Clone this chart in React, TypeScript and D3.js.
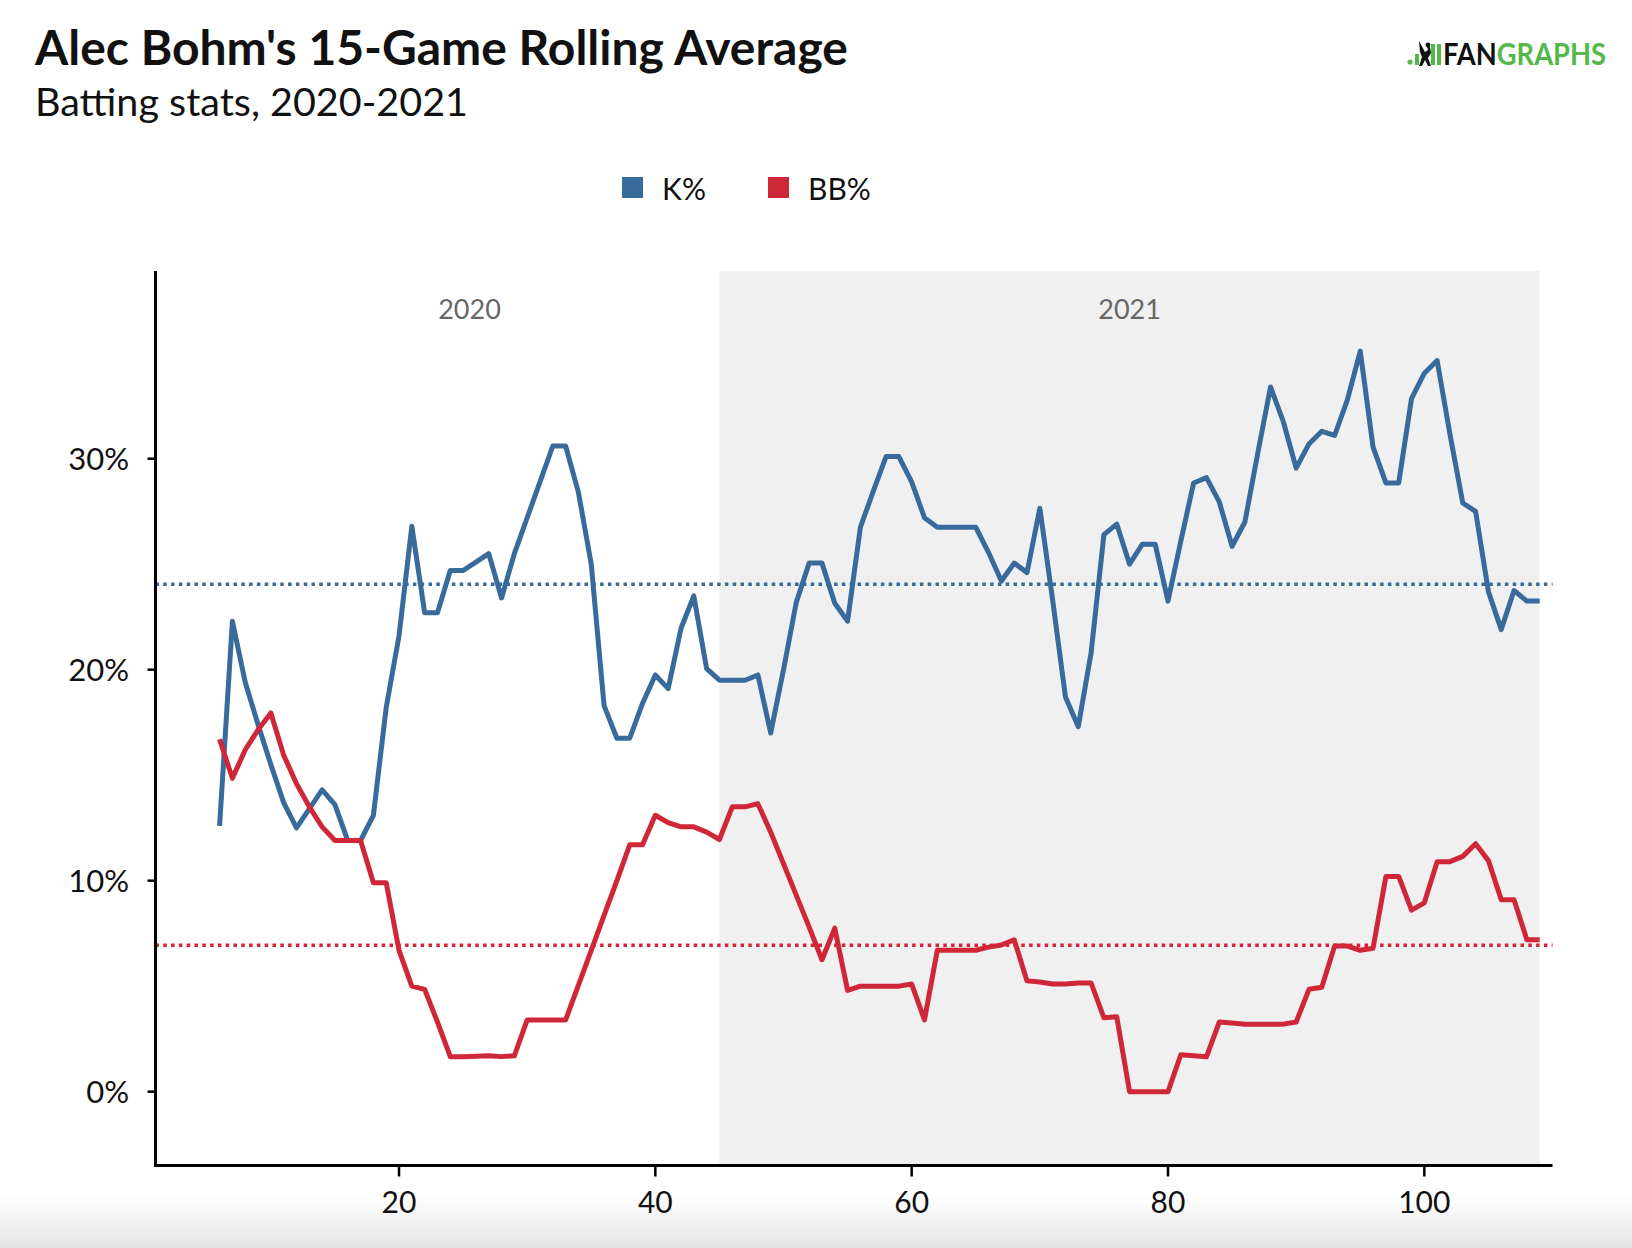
import React from "react";
import * as d3 from "d3";

// ---- data ----
const FIRST_GAME = 6;
const kPct = [
  12.6, 22.3, 19.4, 17.4, 15.5, 13.7, 12.5, 13.4, 14.3, 13.6,
  11.9, 11.9, 13.1, 18.2, 21.6, 26.8, 22.7, 22.7, 24.7, 24.7,
  25.1, 25.5, 23.4, 25.5, 27.2, 28.9, 30.6, 30.6, 28.4, 25.0,
  18.3, 16.75, 16.75, 18.4, 19.75, 19.1, 21.95, 23.5, 20.05, 19.5,
  19.5, 19.5, 19.75, 17.0, 20.0, 23.2, 25.05, 25.05, 23.15, 22.3,
  26.75, 28.45, 30.1, 30.1, 28.9, 27.2, 26.75, 26.75, 26.75, 26.75,
  25.55, 24.2, 25.05, 24.6, 27.65, 23.3, 18.7, 17.3, 20.8, 26.4,
  26.9, 25.0, 25.95, 25.95, 23.25, 26.1, 28.85, 29.1, 27.95, 25.85,
  27.0, 30.25, 33.4, 31.75, 29.55, 30.7, 31.3, 31.1, 32.8, 35.1,
  30.55, 28.85, 28.85, 32.85, 34.05, 34.65, 31.15, 27.9, 27.5, 23.7,
  21.9, 23.75, 23.25, 23.25,
];
const bbPct = [
  16.7, 14.85, 16.2, 17.15, 17.95, 15.95, 14.6, 13.5, 12.55, 11.9,
  11.9, 11.9, 9.9, 9.9, 6.7, 5.0, 4.85, 3.3, 1.66, 1.66,
  1.68, 1.7, 1.66, 1.7, 3.4, 3.4, 3.4, 3.4, 5.05, 6.7,
  8.35, 10.0, 11.7, 11.7, 13.1, 12.75, 12.55, 12.55, 12.3, 11.95,
  13.5, 13.5, 13.65, 12.3, 10.8, 9.3, 7.8, 6.25, 7.75, 4.8,
  5.0, 5.0, 5.0, 5.0, 5.1, 3.4, 6.7, 6.7, 6.7, 6.7,
  6.85, 6.95, 7.2, 5.25, 5.2, 5.1, 5.1, 5.15, 5.15, 3.5,
  3.55, 0, 0, 0, 0, 1.75, 1.7, 1.65, 3.3, 3.25,
  3.2, 3.2, 3.2, 3.2, 3.3, 4.85, 4.95, 6.9, 6.9, 6.7,
  6.8, 10.2, 10.2, 8.6, 8.95, 10.9, 10.9, 11.15, 11.75, 10.95,
  9.1, 9.1, 7.2, 7.2,
];
const kAvg = 24.05;
const bbAvg = 6.94;
const seasons = [
  { label: "2020", start: 6, end: 45 },
  { label: "2021", start: 45, end: 109 },
];
const yTicks = [0, 10, 20, 30];
const xTicks = [20, 40, 60, 80, 100];
const xDomain = [1, 110];
const yDomain = [-3.5, 38.9];

const series = [
  { name: "K%", values: kPct, avg: kAvg, color: "#386a9b" },
  { name: "BB%", values: bbPct, avg: bbAvg, color: "#cf2738" },
];

const W = 1632;
const H = 1248;
const FONT = "Lato, 'Open Sans', sans-serif";

export default function App() {
  const x = d3.scaleLinear().domain(xDomain).range([155.5, 1552.5]);
  const y = d3.scaleLinear().domain(yDomain).range([1165.5, 270.9]);
  const [y0, y1] = y.range();

  const line = d3
    .line<number>()
    .x((_, i) => x(FIRST_GAME + i))
    .y((d) => y(d));

  return (
    <svg
      width={W}
      height={H}
      style={{ position: "absolute", left: 0, top: 0, background: "#fff" }}
      fontFamily={FONT}
    >
      <defs>
        <linearGradient id="bottomFade" x1="0" y1="0" x2="0" y2="1">
          <stop offset="0" stopColor="#ffffff" />
          <stop offset="1" stopColor="#e4e4e4" />
        </linearGradient>
      </defs>
      <rect x={0} y={0} width={W} height={H} fill="#fff" />
      <rect x={0} y={1196} width={W} height={H - 1196} fill="url(#bottomFade)" />

      {/* title */}
      <text x={35} y={65} fontSize={48} fontWeight={700} fill="#111">
        Alec Bohm's 15-Game Rolling Average
      </text>
      <text x={35} y={116} fontSize={39.5} fill="#111">
        Batting stats, 2020-2021
      </text>

      {/* logo */}
      <g>
        <circle cx={1410} cy={62} r={2.6} fill="#55b84a" />
        <rect x={1415} y={54} width={4} height={11} fill="#55b84a" />
        <rect x={1431} y={44} width={4} height={21} fill="#55b84a" />
        <rect x={1437} y={44} width={4} height={21} fill="#55b84a" />
        <path
          d="M1419 41 L1425 52 L1428 50 L1427 46 L1430 47 L1431 53 L1428 58 L1431 66 L1428 66 L1425 60 L1422 66 L1419 66 L1422 57 L1420 52 Z"
          fill="#111"
        />
        <circle cx={1428} cy={45} r={2.4} fill="#111" />
        <text
          x={1443}
          y={65}
          fontSize={30}
          fontWeight={700}
          textLength={163}
          lengthAdjust="spacingAndGlyphs"
          fill="#55b84a"
        >
          <tspan fill="#111">FAN</tspan>GRAPHS
        </text>
      </g>

      {/* legend */}
      {series.map((s, i) => {
        const lx = [622, 768][i];
        return (
          <g key={s.name}>
            <rect x={lx} y={177} width={21} height={21} fill={s.color} />
            <text x={lx + 40} y={200} fontSize={30} fill="#111">
              {s.name}
            </text>
          </g>
        );
      })}

      {/* season shading */}
      <rect
        x={x(seasons[1].start)}
        y={y1}
        width={x(seasons[1].end) - x(seasons[1].start)}
        height={y0 - y1}
        fill="#f0f0f0"
      />
      {seasons.map((s) => (
        <text
          key={s.label}
          x={x((s.start + s.end) / 2)}
          y={319}
          textAnchor="middle"
          fontSize={27}
          fill="#666"
        >
          {s.label}
        </text>
      ))}

      {/* average lines */}
      {series.map((s) => (
        <line
          key={s.name + "avg"}
          x1={x(xDomain[0])}
          x2={x(xDomain[1])}
          y1={y(s.avg)}
          y2={y(s.avg)}
          stroke={s.color}
          strokeWidth={3.5}
          strokeDasharray="3.5 4.3"
        />
      ))}

      {/* lines */}
      {series.map((s) => (
        <path
          key={s.name}
          d={line(s.values) || ""}
          fill="none"
          stroke={s.color}
          strokeWidth={5}
          strokeLinejoin="round"
        />
      ))}

      {/* axes */}
      <line x1={x(xDomain[0])} x2={x(xDomain[0])} y1={y1} y2={y0 + 1.5} stroke="#000" strokeWidth={3} />
      <line x1={x(xDomain[0]) - 1.5} x2={x(xDomain[1])} y1={y0} y2={y0} stroke="#000" strokeWidth={3} />
      {yTicks.map((t) => (
        <g key={"y" + t}>
          <line x1={x(xDomain[0]) - 8} x2={x(xDomain[0])} y1={y(t)} y2={y(t)} stroke="#000" strokeWidth={2.5} />
          <text x={129} y={y(t)} dy="0.35em" textAnchor="end" fontSize={31} fill="#111">
            {t}%
          </text>
        </g>
      ))}
      {xTicks.map((t) => (
        <g key={"x" + t}>
          <line x1={x(t)} x2={x(t)} y1={y0} y2={y0 + 11} stroke="#000" strokeWidth={2.5} />
          <text x={x(t)} y={1213} textAnchor="middle" fontSize={30} fill="#111">
            {t}
          </text>
        </g>
      ))}
    </svg>
  );
}
